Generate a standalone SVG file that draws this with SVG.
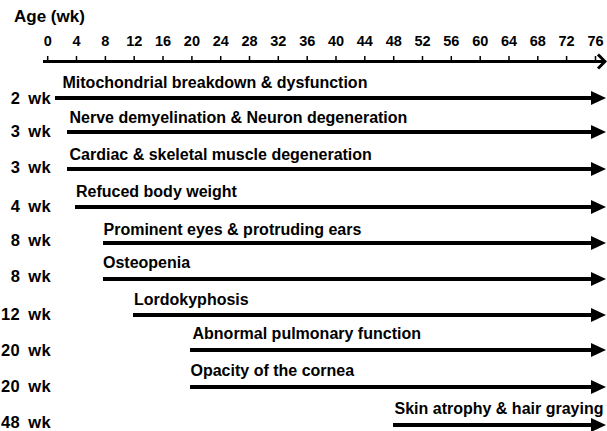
<svg xmlns="http://www.w3.org/2000/svg" width="607" height="431" viewBox="0 0 607 431">
<style>
text{font-family:"Liberation Sans",Arial,sans-serif;font-weight:bold;fill:#000}
.t{font-size:14.5px;text-anchor:middle}
.w{font-size:16.5px;text-anchor:end;word-spacing:3px;letter-spacing:0.4px}
.l{font-size:16px}
.ax{stroke:#000;stroke-width:3;fill:none}
.tk{stroke:#000;stroke-width:1.5}
.ar{stroke:#000;stroke-width:4;marker-end:url(#ah)}
</style>
<defs>
<marker id="ah" markerUnits="userSpaceOnUse" markerWidth="16" markerHeight="14" refX="0" refY="7" orient="auto">
<path d="M0,0 L15,7 L0,14 z" fill="#000"/>
</marker>
</defs>
<rect width="607" height="431" fill="#fff"/>
<g id="axis">
<text x="14" y="22" style="font-size:17px">Age (wk)</text>
<line class="ax" x1="43" y1="61.5" x2="604" y2="61.5"/>
<polyline class="ax" points="598,54.5 605,61.5 598,68.5" stroke-width="2.5"/>
<g class="tk">
<line x1="47.7" y1="56" x2="47.7" y2="61"/><line x1="76.5" y1="56" x2="76.5" y2="61"/><line x1="105.4" y1="56" x2="105.4" y2="61"/><line x1="134.2" y1="56" x2="134.2" y2="61"/><line x1="163" y1="56" x2="163" y2="61"/><line x1="191.9" y1="56" x2="191.9" y2="61"/><line x1="220.7" y1="56" x2="220.7" y2="61"/><line x1="249.5" y1="56" x2="249.5" y2="61"/><line x1="278.3" y1="56" x2="278.3" y2="61"/><line x1="307.2" y1="56" x2="307.2" y2="61"/><line x1="336" y1="56" x2="336" y2="61"/><line x1="364.8" y1="56" x2="364.8" y2="61"/><line x1="393.7" y1="56" x2="393.7" y2="61"/><line x1="422.5" y1="56" x2="422.5" y2="61"/><line x1="451.3" y1="56" x2="451.3" y2="61"/><line x1="480.2" y1="56" x2="480.2" y2="61"/><line x1="509" y1="56" x2="509" y2="61"/><line x1="537.8" y1="56" x2="537.8" y2="61"/><line x1="566.6" y1="56" x2="566.6" y2="61"/><line x1="595.5" y1="56" x2="595.5" y2="61"/>
</g>
<g class="t">
<text class="t" x="47.7" y="46">0</text><text class="t" x="76.5" y="46">4</text><text class="t" x="105.4" y="46">8</text><text class="t" x="134.2" y="46">12</text><text class="t" x="163" y="46">16</text><text class="t" x="191.9" y="46">20</text><text class="t" x="220.7" y="46">24</text><text class="t" x="249.5" y="46">28</text><text class="t" x="278.3" y="46">32</text><text class="t" x="307.2" y="46">36</text><text class="t" x="336" y="46">40</text><text class="t" x="364.8" y="46">44</text><text class="t" x="393.7" y="46">48</text><text class="t" x="422.5" y="46">52</text><text class="t" x="451.3" y="46">56</text><text class="t" x="480.2" y="46">60</text><text class="t" x="509" y="46">64</text><text class="t" x="537.8" y="46">68</text><text class="t" x="566.6" y="46">72</text><text class="t" x="595.5" y="46">76</text>
</g>
</g>
<g id="connectors">
<line class="ar" x1="55" y1="98" x2="591" y2="98"/>
<line class="ar" x1="67" y1="132" x2="591" y2="132"/>
<line class="ar" x1="67" y1="169" x2="591" y2="169"/>
<line class="ar" x1="75" y1="207" x2="591" y2="207"/>
<line class="ar" x1="103" y1="243" x2="591" y2="243"/>
<line class="ar" x1="103" y1="279" x2="591" y2="279"/>
<line class="ar" x1="133" y1="315" x2="591" y2="315"/>
<line class="ar" x1="190" y1="350" x2="591" y2="350"/>
<line class="ar" x1="190" y1="387" x2="591" y2="387"/>
<line class="ar" x1="393" y1="425" x2="591" y2="425"/>
</g>
<g id="row1"><text class="w" x="51" y="103.5">2 wk</text><text class="l" x="62.5" y="88">Mitochondrial breakdown &amp; dysfunction</text></g>
<g id="row2"><text class="w" x="51" y="137">3 wk</text><text class="l" x="69.5" y="123">Nerve demyelination &amp; Neuron degeneration</text></g>
<g id="row3"><text class="w" x="51" y="173">3 wk</text><text class="l" x="69.5" y="160">Cardiac &amp; skeletal muscle degeneration</text></g>
<g id="row4"><text class="w" x="51" y="212">4 wk</text><text class="l" x="76" y="197">Refuced body weight</text></g>
<g id="row5"><text class="w" x="51" y="246">8 wk</text><text class="l" x="103.5" y="235">Prominent eyes &amp; protruding ears</text></g>
<g id="row6"><text class="w" x="51" y="282">8 wk</text><text class="l" x="103" y="268">Osteopenia</text></g>
<g id="row7"><text class="w" x="51" y="320">12 wk</text><text class="l" x="134" y="305">Lordokyphosis</text></g>
<g id="row8"><text class="w" x="51" y="356">20 wk</text><text class="l" x="192.5" y="339">Abnormal pulmonary function</text></g>
<g id="row9"><text class="w" x="51" y="392">20 wk</text><text class="l" x="190.5" y="376">Opacity of the cornea</text></g>
<g id="row10"><text class="w" x="51" y="428">48 wk</text><text class="l" x="394.5" y="414">Skin atrophy &amp; hair graying</text></g>
</svg>
